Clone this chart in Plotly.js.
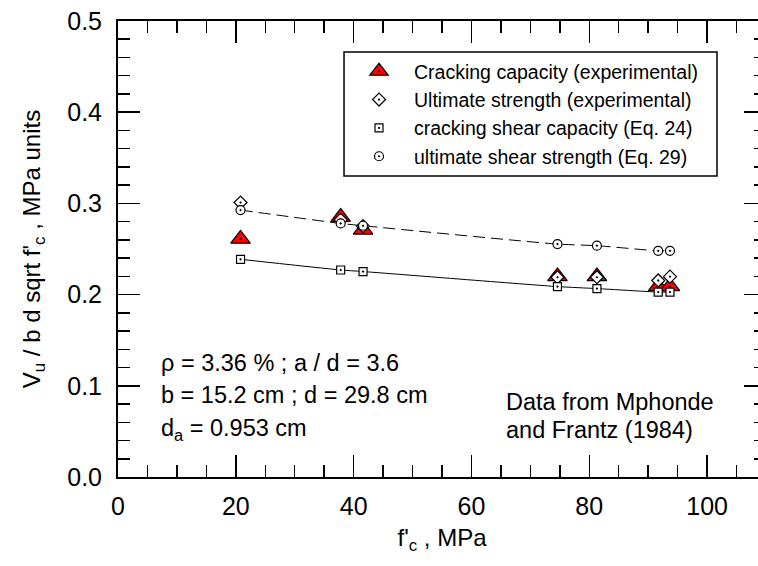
<!DOCTYPE html>
<html>
<head>
<meta charset="utf-8">
<script src="https://cdn.plot.ly/plotly-3.0.1.min.js"></script>
<style>
  html, body { margin: 0; padding: 0; overflow: hidden; background: #fff; }
  #chart { width: 775px; height: 566px; }
</style>
</head>
<body>
<div id="chart"></div>
<script>
// Concrete compressive strength of each beam, MPa
const fc = [20.8, 37.8, 41.6, 74.6, 81.3, 91.7, 93.7];

// Normalised shear  Vu / (b d sqrt f'c), MPa units
const crackingExperimental = [0.261, 0.285, 0.271, 0.220, 0.220, 0.209, 0.209];
const ultimateExperimental = [0.301, 0.282, 0.275, 0.219, 0.219, 0.2155, 0.2197];
const crackingEq24 = [0.2387, 0.227, 0.2253, 0.2088, 0.2066, 0.2028, 0.2028];
const ultimateEq29 = [0.2927, 0.278, 0.2755, 0.2554, 0.2536, 0.248, 0.248];

const legendNames = [
  'Cracking capacity (experimental)',
  'Ultimate strength (experimental)',
  'cracking shear capacity (Eq. 24)',
  'ultimate shear strength (Eq. 29)'
];

const FONT = 'Arial, "Liberation Sans", Helvetica, sans-serif';
const outline = { color: '#000', width: 1.2 };

const traces = [
  // predicted curves (drawn underneath the symbols)
  { x: fc, y: crackingEq24, mode: 'lines', showlegend: false, hoverinfo: 'skip',
    line: { color: '#000', width: 1, shape: 'spline', smoothing: 0.6 } },
  { x: fc, y: ultimateEq29, mode: 'lines', showlegend: false, hoverinfo: 'skip',
    line: { color: '#000', width: 1, dash: '12px,6px', shape: 'spline', smoothing: 0.6 } },
  // symbols
  { x: fc, y: crackingExperimental, mode: 'markers', name: legendNames[0],
    marker: { symbol: 'triangle-up-dot', size: 17, color: '#ff0000', line: outline } },
  { x: fc, y: ultimateExperimental, mode: 'markers', name: legendNames[1],
    marker: { symbol: 'diamond-dot', size: 10, color: '#fff', line: outline } },
  { x: fc, y: crackingEq24, mode: 'markers', name: legendNames[2],
    marker: { symbol: 'square-dot', size: 8, color: '#fff', line: outline } },
  { x: fc, y: ultimateEq29, mode: 'markers', name: legendNames[3],
    marker: { symbol: 'circle-dot', size: 9, color: '#fff', line: outline } }
];

const axisCommon = {
  showline: true, linecolor: '#000', linewidth: 2, mirror: 'ticks',
  ticks: 'inside', ticklen: 22, tickwidth: 1.5, tickcolor: '#000',
  showgrid: false, zeroline: false,
  tickfont: { family: FONT, size: 25, color: '#000' }
};

const noteFont = { family: FONT, size: 23.5, color: '#000' };
function note(text, x, y) {
  return { text: text, x: x, y: y, xref: 'x', yref: 'y', xanchor: 'left', yanchor: 'middle',
           showarrow: false, align: 'left', font: noteFont };
}

const layout = {
  width: 775, height: 566,
  margin: { l: 118, r: 9, t: 21, b: 89 },
  paper_bgcolor: '#fff', plot_bgcolor: '#fff',
  font: { family: FONT, color: '#000' },
  xaxis: Object.assign({}, axisCommon, {
    range: [0, 110], dtick: 20, tick0: 0,
    minor: { dtick: 5, ticks: 'inside', ticklen: 12, tickwidth: 1.5, tickcolor: '#000' },
    ticklabelstandoff: 6,
    title: { text: "f'<sub>c</sub> , MPa", font: { family: FONT, size: 24, color: '#000' }, standoff: 10 }
  }),
  yaxis: Object.assign({}, axisCommon, {
    range: [0, 0.5], dtick: 0.1, tick0: 0, tickformat: '.1f',
    minor: { dtick: 0.02, ticks: 'inside', ticklen: 12, tickwidth: 1.5, tickcolor: '#000' },
    ticklabelstandoff: 9,
    title: { text: "V<sub>u</sub> / b d sqrt f'<sub>c</sub> , MPa units",
             font: { family: FONT, size: 24, color: '#000' }, standoff: 20 }
  }),
  legend: {
    x: 0.3488, y: 0.932, xanchor: 'left', yanchor: 'top',
    bgcolor: 'rgba(0,0,0,0)', borderwidth: 0,
    itemwidth: 60, tracegroupgap: 0,
    font: { family: FONT, size: 19.5, color: '#000' }
  },
  shapes: [{
    type: 'rect', xref: 'paper', yref: 'paper', layer: 'below',
    x0: 0.3488, x1: 0.9244, y0: 0.660, y1: 0.932,
    line: { color: '#000', width: 1.5 }, fillcolor: '#fff'
  }],
  annotations: [
    note('\u03c1 = 3.36 % ; a / d = 3.6', 7, 0.125),
    note('b = 15.2 cm ; d = 29.8 cm', 7, 0.090),
    note('d<sub>a</sub> = 0.953 cm', 7, 0.052),
    note('Data from Mphonde', 65.6, 0.082),
    note('and Frantz (1984)', 65.6, 0.051)
  ]
};

Plotly.newPlot('chart', traces, layout, { staticPlot: true, displayModeBar: false });
</script>
</body>
</html>
